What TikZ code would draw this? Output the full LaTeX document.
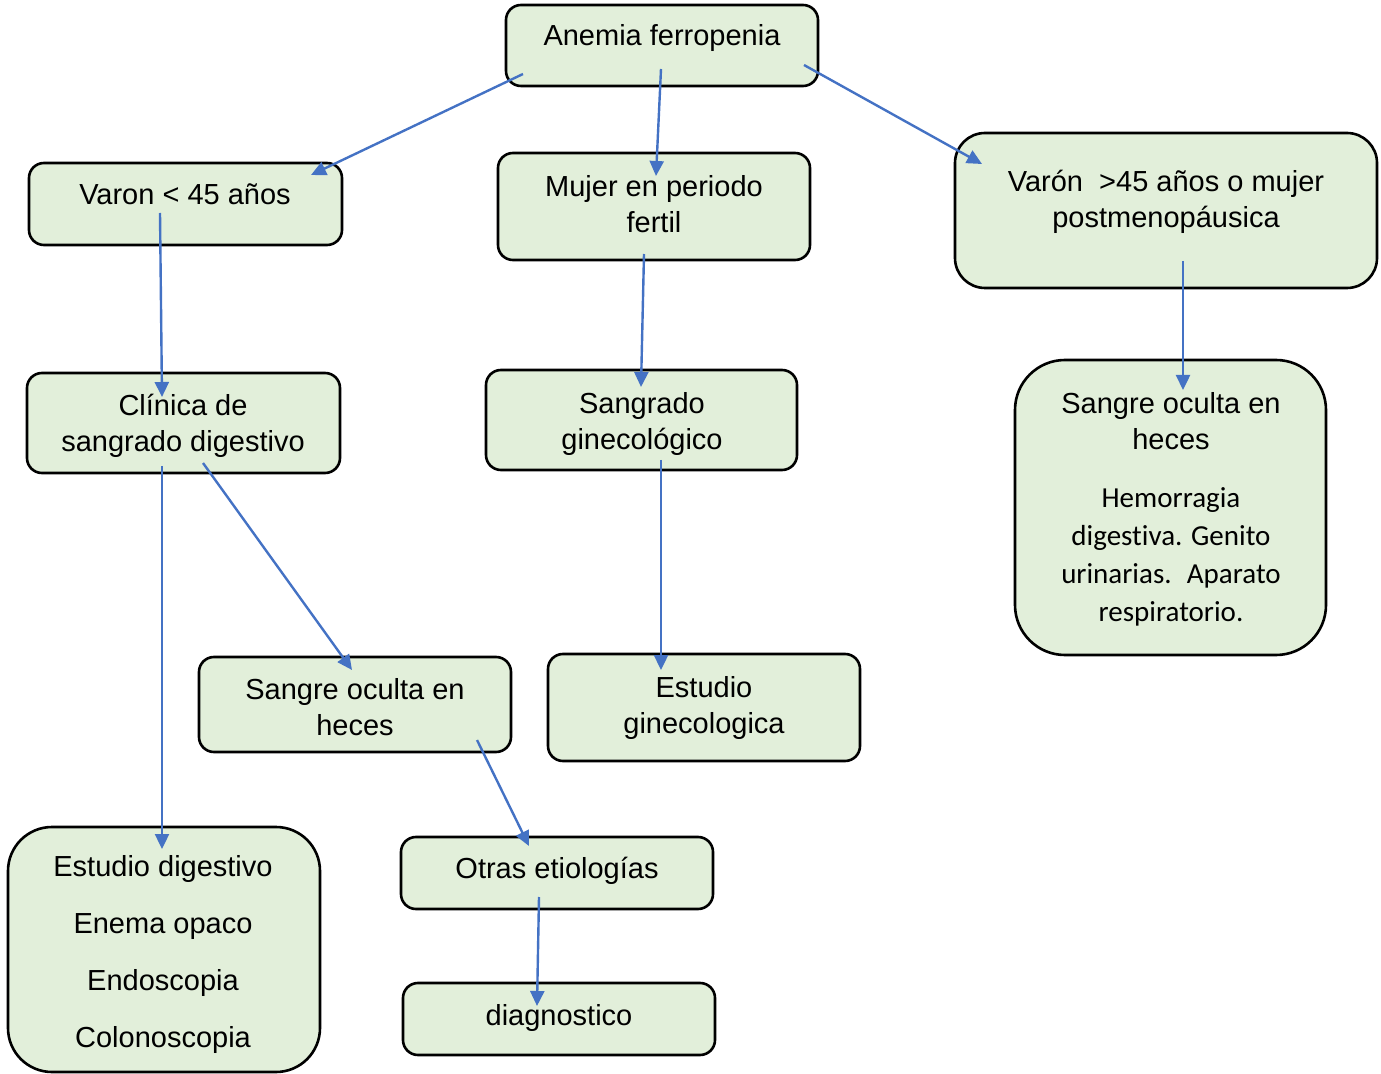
\documentclass[tikz,border=0pt]{standalone}
\usepackage{fontspec}
\setmainfont{Liberation Sans}
\newfontfamily\calib[Ligatures=NoCommon]{Carlito}
\usetikzlibrary{arrows.meta,calc}
\definecolor{boxfill}{RGB}{226,239,218}
\definecolor{arrowblue}{RGB}{68,114,196}
\begin{document}
\begin{tikzpicture}[x=0.5pt,y=-0.5pt,
  box/.style={draw=black,line width=1.3pt,fill=boxfill,rounded corners=7.5pt,inner sep=0pt},
  txt/.style={font=\fontsize{14.5}{18}\selectfont,align=center,inner sep=0pt},
  ctxt/.style={font=\calib\fontsize{14.5}{19}\selectfont,align=center,inner sep=0pt},
  conn/.style={draw=arrowblue,line width=1.2pt,-{Triangle[length=7.5pt,width=7pt]}}]
\useasboundingbox (0,0) rectangle (1381,1074);
% boxes
\node[box,minimum width=156pt,minimum height=40.5pt] (b1) at (662,45.5) {};
\node[box,minimum width=156.5pt,minimum height=41pt] (b2) at (185.5,204) {};
\node[box,minimum width=156pt,minimum height=53.5pt] (b3) at (654,206.5) {};
\node[box,rounded corners=15pt,minimum width=211pt,minimum height=77.5pt] (b4) at (1166,210.5) {};
\node[box,minimum width=156.5pt,minimum height=50pt] (b5) at (183.5,423) {};
\node[box,minimum width=155.5pt,minimum height=50pt] (b6) at (641.5,420) {};
\node[box,rounded corners=25pt,minimum width=155.5pt,minimum height=147.5pt] (b7) at (1170.5,507.5) {};
\node[box,minimum width=156pt,minimum height=47.5pt] (b8) at (355,704.5) {};
\node[box,minimum width=156pt,minimum height=53.5pt] (b9) at (704,707.5) {};
\node[box,rounded corners=22pt,minimum width=156pt,minimum height=122.5pt] (b10) at (164,949.5) {};
\node[box,minimum width=156pt,minimum height=36pt] (b11) at (557,873) {};
\node[box,minimum width=156pt,minimum height=36pt] (b12) at (559,1019) {};
% texts
\node[txt] (t1) at (662,38.5) {Anemia ferropenia};
\node[txt] (t2) at (185,194) {Varon < 45 años};
\node[txt] (t3) at (654,204.5) {Mujer en periodo\\fertil};
\node[txt] (t4) at (1166,202) {Varón~ >45 años o mujer\\postmenopáusica};
\node[txt] (t5) at (183,426) {Clínica de\\sangrado digestivo};
\node[txt] (t6) at (642,424) {Sangrado\\ginecológico};
\node[txt] (t7) at (1171,421) {Sangre oculta en\\heces};
\node[ctxt] (t7b) at (1171,557) {Hemorragia\\digestiva. Genito\\urinarias.~ Aparato\\respiratorio.};
\node[txt] (t8) at (355,707) {Sangre oculta en\\heces};
\node[txt] (t9) at (704,708) {Estudio\\ginecologica};
\node[txt,font=\fontsize{14.5}{28.5}\selectfont] (t10) at (163,954) {Estudio digestivo\\Enema opaco\\Endoscopia\\Colonoscopia};
\node[txt] (t11) at (557,871) {Otras etiologías};
\node[txt] (t12) at (559,1018) {diagnostico};
% connectors
\draw[conn] ($(b1)+(-139,28.5)$) -- ($(b2)+(125.5,-29)$);
\draw[conn] ($(b1)+(-1,23.5)$) -- ($(b3)+(2,-30.5)$);
\draw[conn] ($(b1)+(142,19.5)$) -- ($(b4)+(-184,-46.5)$);
\draw[conn] ($(b2)+(-25.5,9)$) -- ($(b5)+(-21.5,-26)$);
\draw[conn] ($(b3)+(-10,47.5)$) -- ($(b6)+(-0.5,-33)$);
\draw[conn] ($(b4)+(17,50.5)$) -- ($(b7)+(12.5,-117.5)$);
\draw[conn] ($(b5)+(-21.5,43)$) -- ($(b10)+(-2,-100.5)$);
\draw[conn] ($(b5)+(19.5,40)$) -- ($(b8)+(-3,-34.5)$);
\draw[conn] ($(b6)+(19.5,40)$) -- ($(b9)+(-43,-37.5)$);
\draw[conn] ($(b8)+(122,35.5)$) -- ($(b11)+(-28,-27)$);
\draw[conn] ($(b11)+(-18,24)$) -- ($(b12)+(-22,-13)$);
\end{tikzpicture}
\end{document}
